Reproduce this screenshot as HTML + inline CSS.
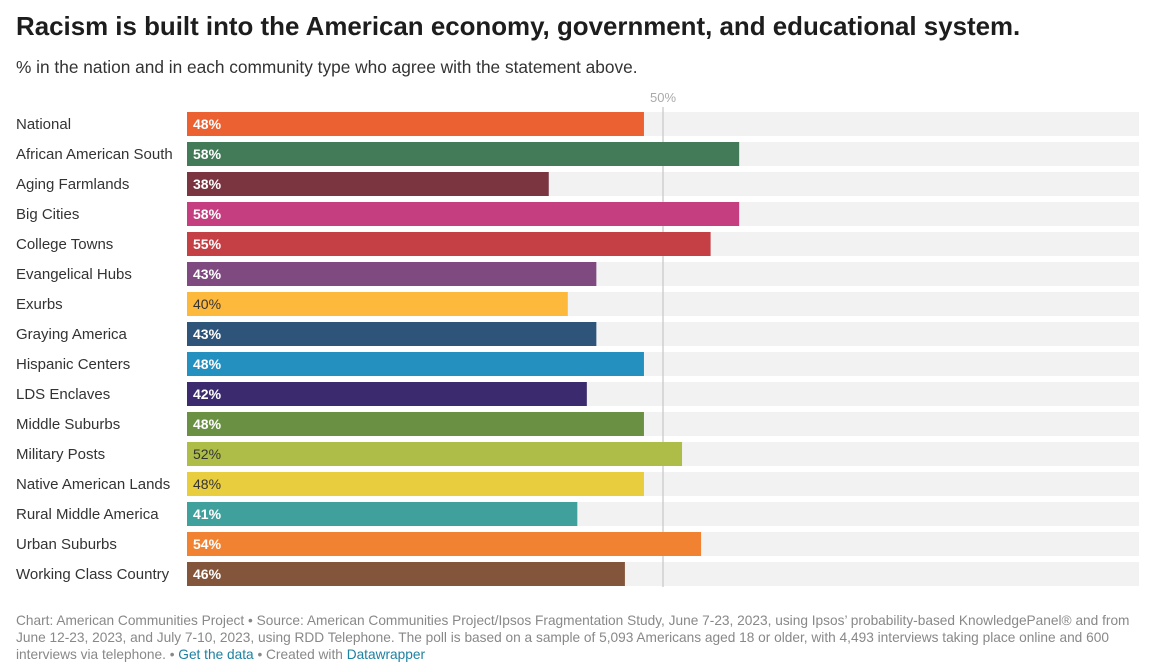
<!DOCTYPE html>
<html><head><meta charset="utf-8"><style>
body{margin:0;width:1152px;height:668px;background:#fff;font-family:"Liberation Sans",sans-serif;overflow:hidden;position:relative}
h1{position:absolute;left:16px;top:13px;margin:0;font-size:25.9px;font-weight:bold;color:#1d1d1d}
.sub{position:absolute;left:16px;top:57px;font-size:17.3px;color:#333}
.foot{position:absolute;left:16px;top:612px;width:1130px;font-size:13.7px;line-height:17px;color:#888}
.foot a{color:#1d81a2;text-decoration:none}
</style></head><body>
<h1>Racism is built into the American economy, government, and educational system.</h1>
<div class="sub">% in the nation and in each community type who agree with the statement above.</div>
<svg id="chart" width="1152" height="600" style="position:absolute;left:0;top:0"></svg>
<div class="foot">Chart: American Communities Project • Source: American Communities Project/Ipsos Fragmentation Study, June 7-23, 2023, using Ipsos’ probability-based KnowledgePanel® and from June 12-23, 2023, and July 7-10, 2023, using RDD Telephone. The poll is based on a sample of 5,093 Americans aged 18 or older, with 4,493 interviews taking place online and 600 interviews via telephone. • <a>Get the data</a> • Created with <a>Datawrapper</a></div>
<script>
const categories=["National","African American South","Aging Farmlands","Big Cities","College Towns","Evangelical Hubs","Exurbs","Graying America","Hispanic Centers","LDS Enclaves","Middle Suburbs","Military Posts","Native American Lands","Rural Middle America","Urban Suburbs","Working Class Country"];
const values=[48,58,38,58,55,43,40,43,48,42,48,52,48,41,54,46];
const colors=["#ec6131","#437a57","#7b3540","#c43e80","#c44045","#7f4a80","#fdb93c","#2e5479","#2490bf","#3b2a6e","#6a9143","#adbd48","#e8cd3e","#3fa09c","#f08232","#83563b"];
const darkText=["Exurbs","Military Posts","Native American Lands"];
const refValue=50;
const svg=document.getElementById('chart');
const NS="http://www.w3.org/2000/svg";
const x0=187,x1=1139;
const xs=v=>x0+(x1-x0)*v/100;
const rowY=i=>112+i*30;
const barH=24;
function mk(t,a){const e=document.createElementNS(NS,t);for(const k in a)e.setAttribute(k,a[k]);svg.appendChild(e);return e;}
categories.forEach((c,i)=>{
  const bg=mk('rect',{x:x0,y:rowY(i),width:x1-x0,height:barH,fill:'#f2f2f2'});
  
  
});
const rl=mk('line',{x1:xs(refValue),x2:xs(refValue),y1:107,y2:587,stroke:'#d0d0d0','stroke-width':1.5});


const rt=mk('text',{x:xs(refValue),y:102,'text-anchor':'middle','font-size':13,fill:'#aaa'});
rt.textContent=refValue+'%';


categories.forEach((c,i)=>{
  const y=rowY(i);
  const lab=mk('text',{x:16,y:y+17,'font-size':15,fill:'#333'});
  lab.textContent=c;
  
  
  const b=mk('rect',{x:x0,y:y,width:xs(values[i])-x0,height:barH,fill:colors[i]});
  
  
  const dk=darkText.includes(c);
  const v=mk('text',{x:x0+6,y:y+17,'font-size':14,'font-weight':dk?'normal':'bold',fill:dk?'#333':'#fff'});
  v.textContent=values[i]+'%';
  
  
});
</script>
</body></html>
